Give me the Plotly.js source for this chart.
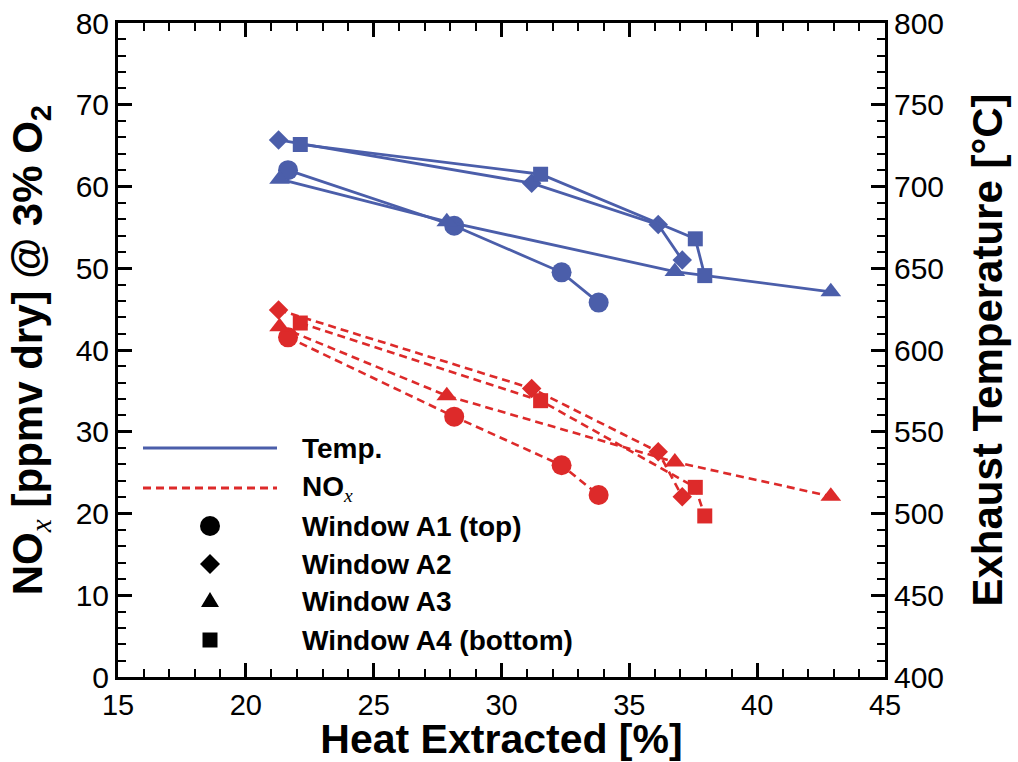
<!DOCTYPE html>
<html>
<head>
<meta charset="utf-8">
<script src="https://cdn.plot.ly/plotly-3.0.1.min.js"></script>
<style>html,body{margin:0;padding:0;background:#fff;}#chart{width:1018px;height:762px;}</style>
</head>
<body>
<div id="chart"></div>
<script>
// Heat extracted [%] per window
const heatA1 = [21.65, 28.15, 32.35, 33.80];
const heatA2 = [21.28, 31.18, 36.13, 37.07];
const heatA3 = [21.32, 27.86, 36.78, 42.88];
const heatA4 = [22.13, 31.53, 37.58, 37.95];
// Exhaust temperature [°C]
const tempA1 = [710.0, 676.0, 647.5, 629.0];
const tempA2 = [728.5, 702.0, 676.7, 655.0];
const tempA3 = [704.5, 678.5, 648.0, 635.6];
const tempA4 = [725.7, 707.5, 668.0, 645.5];
// NOx [ppmv dry @ 3% O2]
const noxA1 = [41.55, 31.85, 25.90, 22.26];
const noxA2 = [44.90, 35.30, 27.55, 22.05];
const noxA3 = [42.85, 34.40, 26.30, 22.10];
const noxA4 = [43.30, 33.80, 23.20, 19.70];

const windowNames = ['Window A1 (top)', 'Window A2', 'Window A3', 'Window A4 (bottom)'];
const xTitle = 'Heat Extracted [%]';
const yTitle = 'NO<sub><span style="font-family:Liberation Serif;font-style:italic;font-weight:normal">x</span></sub> [ppmv dry] @ 3% O<sub>2</sub>';
const y2Title = 'Exhaust Temperature [°C]';

const BLUE = '#4B5EAA';
const RED = '#DD2A2A';
const FONT = 'Liberation Sans, Arial, Helvetica, sans-serif';

const heats = [heatA1, heatA2, heatA3, heatA4];
const temps = [tempA1, tempA2, tempA3, tempA4];
const noxs = [noxA1, noxA2, noxA3, noxA4];
const symbols = ['circle', 'diamond', 'triangle-up', 'square'];
const sizes = [20, 15, 18, 15];

const traces = [];
for (let i = 0; i < 4; i++) {
  traces.push({
    x: heats[i], y: noxs[i], yaxis: 'y', name: 'NOx ' + windowNames[i],
    mode: 'lines+markers', showlegend: false,
    line: {color: RED, width: 2.6, dash: '8px,5px'},
    marker: {symbol: symbols[i], size: sizes[i], color: RED, line: {width: 0}}
  });
}
for (let i = 0; i < 4; i++) {
  traces.push({
    x: heats[i], y: temps[i], yaxis: 'y2', name: 'Temp. ' + windowNames[i],
    mode: 'lines+markers', showlegend: false,
    line: {color: BLUE, width: 2.8},
    marker: {symbol: symbols[i], size: sizes[i], color: BLUE, line: {width: 0}}
  });
}

// legend geometry (paper coordinates)
const px = v => (v - 118) / 767;
const py = v => (677 - v) / 654;
const shapes = [
  {type: 'line', xref: 'paper', yref: 'paper', x0: px(143), x1: px(277), y0: py(448), y1: py(448), line: {color: BLUE, width: 3}},
  {type: 'line', xref: 'paper', yref: 'paper', x0: px(143), x1: px(277), y0: py(488), y1: py(488), line: {color: RED, width: 3, dash: '8px,5px'}},
  {type: 'circle', xref: 'paper', yref: 'paper', xsizemode: 'pixel', ysizemode: 'pixel', xanchor: px(210), yanchor: py(526), x0: -10, x1: 10, y0: -10, y1: 10, fillcolor: '#000', line: {width: 0}},
  {type: 'path', xref: 'paper', yref: 'paper', xsizemode: 'pixel', ysizemode: 'pixel', xanchor: px(210), yanchor: py(564), path: 'M0,10L10,0L0,-10L-10,0Z', fillcolor: '#000', line: {width: 0}},
  {type: 'path', xref: 'paper', yref: 'paper', xsizemode: 'pixel', ysizemode: 'pixel', xanchor: px(210), yanchor: py(601), path: 'M-9,-6L9,-6L0,9Z', fillcolor: '#000', line: {width: 0}},
  {type: 'rect', xref: 'paper', yref: 'paper', xsizemode: 'pixel', ysizemode: 'pixel', xanchor: px(210), yanchor: py(640), x0: -7.5, x1: 7.5, y0: -7.5, y1: 7.5, fillcolor: '#000', line: {width: 0}}
];
const legendLabels = ['Temp.', 'NO<sub><span style="font-family:Liberation Serif;font-style:italic;font-weight:normal">x</span></sub>'].concat(windowNames);
const legendY = [448, 488, 526, 564, 601, 640];
const annotations = legendLabels.map((t, i) => ({
  text: '<b>' + t + '</b>', xref: 'paper', yref: 'paper', x: px(300), y: py(legendY[i]),
  xanchor: 'left', yanchor: 'middle', showarrow: false,
  font: {family: FONT, size: 28, color: '#000'}
}));

const axisCommon = {
  ticks: 'inside', ticklen: 14, tickwidth: 2.5, tickcolor: '#000',
  showline: true, linewidth: 3, linecolor: '#000',
  showgrid: false, zeroline: false,
  tickfont: {family: FONT, size: 30, color: '#000'}
};

const layout = {
  width: 1018, height: 762,
  margin: {l: 118, r: 133, t: 23, b: 85, pad: 0},
  paper_bgcolor: '#fff', plot_bgcolor: '#fff',
  font: {family: FONT, color: '#000'},
  showlegend: false,
  xaxis: Object.assign({}, axisCommon, {
    range: [15, 45], tick0: 15, dtick: 5, mirror: 'ticks', automargin: false,
    tickfont: {family: FONT, size: 29, color: '#000'},
    minor: {ticks: 'inside', ticklen: 8, tickwidth: 1.5, tickcolor: '#000', dtick: 1, showgrid: false},
    title: {text: xTitle, font: {family: FONT, size: 41, color: '#000', weight: 'bold'}, standoff: 3}
  }),
  yaxis: Object.assign({}, axisCommon, {
    range: [0, 80], tick0: 0, dtick: 10, automargin: false,
    minor: {ticks: 'inside', ticklen: 8, tickwidth: 1.5, tickcolor: '#000', dtick: 2, showgrid: false},
    title: {text: yTitle, font: {family: FONT, size: 42, color: '#000', weight: 'bold'}, standoff: 20}
  }),
  yaxis2: Object.assign({}, axisCommon, {
    range: [400, 800], tick0: 400, dtick: 50, overlaying: 'y', side: 'right', anchor: 'x', automargin: false,
    minor: {ticks: 'inside', ticklen: 8, tickwidth: 1.5, tickcolor: '#000', dtick: 10, showgrid: false},
    title: {text: y2Title, font: {family: FONT, size: 42, color: '#000', weight: 'bold'}, standoff: 30}
  }),
  shapes: shapes,
  annotations: annotations
};

Plotly.newPlot('chart', traces, layout, {displayModeBar: false});
</script>
</body>
</html>
